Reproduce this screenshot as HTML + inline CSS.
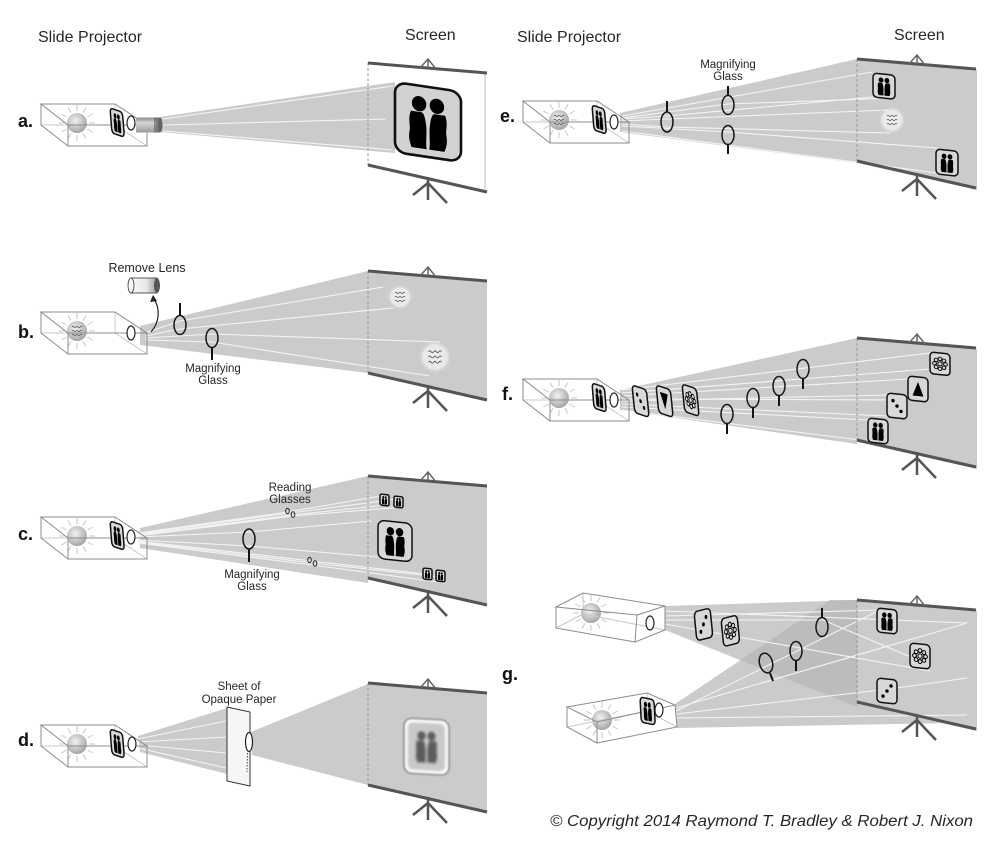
<!DOCTYPE html>
<html><head><meta charset="utf-8"><style>
html,body{margin:0;padding:0;background:#fff}
svg{display:block}
text{font-family:"Liberation Sans",Arial,sans-serif;fill:#262626}
.fr{fill:#d8d8d8;stroke:#111;stroke-width:1.5;vector-effect:non-scaling-stroke}
.gl{fill:none;stroke:#151515;stroke-width:1.5}
.gh{stroke:#151515;stroke-width:2;fill:none}
.ray{stroke:#f4f4f4;stroke-width:1.1;fill:none}
.lens{fill:#fff;stroke:#222;stroke-width:1.2}
</style></head><body>
<svg width="1000" height="845" viewBox="0 0 1000 845" xmlns="http://www.w3.org/2000/svg">
<defs>
<radialGradient id="sg" cx="0.42" cy="0.38" r="0.62"><stop offset="0" stop-color="#f2f2f2"/><stop offset="1" stop-color="#a6a6a6"/></radialGradient>
<radialGradient id="blob" cx="0.5" cy="0.5" r="0.5"><stop offset="0" stop-color="#f0f0f0"/><stop offset="0.7" stop-color="#e8e8e8"/><stop offset="1" stop-color="#cbcbcb" stop-opacity="0"/></radialGradient>
<linearGradient id="cyl" x1="0" y1="0" x2="0" y2="1"><stop offset="0" stop-color="#8a8a8a"/><stop offset="0.35" stop-color="#d4d4d4"/><stop offset="1" stop-color="#9a9a9a"/></linearGradient>
<linearGradient id="cyl2" x1="0" y1="0" x2="1" y2="0"><stop offset="0" stop-color="#fbfbfb"/><stop offset="0.6" stop-color="#e6e6e6"/><stop offset="1" stop-color="#9c9c9c"/></linearGradient>
<filter id="bl05" x="-30%" y="-30%" width="160%" height="160%"><feGaussianBlur stdDeviation="0.7"/></filter>
<filter id="bl1" x="-30%" y="-30%" width="160%" height="160%"><feGaussianBlur stdDeviation="1.1"/></filter>
<g id="sun" stroke="#c6c6c6" stroke-width="1">
<path d="M12,0L18,0 M10.4,6L15.6,9 M6,10.4L9,15.6 M0,12L0,18 M-6,10.4L-9,15.6 M-10.4,6L-15.6,9 M-12,0L-18,0 M-10.4,-6L-15.6,-9 M-6,-10.4L-9,-15.6 M0,-12L0,-18 M6,-10.4L9,-15.6 M10.4,-6L15.6,-9"/>
<circle r="10" fill="url(#sg)" stroke="none"/>
</g>
<path id="wig" fill="none" stroke="#555" stroke-width="0.7" d="M-5,-4 q1,-1.5 2,0 t2,0 t2,0 t2,0 t2,0 M-5,0 q1,-1.5 2,0 t2,0 t2,0 t2,0 t2,0 M-5,4 q1,-1.5 2,0 t2,0 t2,0 t2,0 t2,0"/>
<g id="box" fill="none">
<use href="#sun" x="36" y="19"/>
<path d="M0,21 L74,21 L74,0 M74,21 L106,42" stroke="#c8c8c8" stroke-width="1"/>
<path d="M0,0 L74,0 L106,21 L27,21 Z M27,21 L27,42 L106,42 L106,21 M0,0 L0,21 L27,42" stroke="#8c8c8c" stroke-width="1"/>
</g>
<g id="ppl">
<ellipse cx="7.3" cy="6.2" rx="2.2" ry="2.6"/>
<path d="M4.8,9 C3.8,12 4.8,14 4.4,16 C4,18.5 4.6,20 5,21.4 L9.6,21.4 C9.2,18.5 9.8,16 9.4,13 C9.2,11 8.8,9.4 8.2,9 Z"/>
<ellipse cx="12.7" cy="6.2" rx="2.2" ry="2.6"/>
<path d="M11.8,9 C11.2,9.4 10.8,11 10.6,13 C10.2,16 10.8,18.5 10.4,21.4 L15,21.4 C15.4,20 16,18.5 15.6,16 C15.2,14 16.2,12 15.2,9 Z"/>
</g>
<g id="dice1" fill="#000"><circle cx="6" cy="7" r="1.7"/><circle cx="10" cy="12" r="1.7"/><circle cx="14" cy="17" r="1.7"/></g>
<g id="dice2" fill="#000"><circle cx="14" cy="6.5" r="1.7"/><circle cx="10" cy="12" r="1.7"/><circle cx="6" cy="17.5" r="1.7"/></g>
<polygon id="tri" points="10,5 15.5,19 4.5,19" fill="#000"/>
<polygon id="tri2" points="4.5,5 15.5,5 10,19" fill="#000"/>
<g id="flw" fill="none" stroke="#000" stroke-width="1">
<circle cx="15.5" cy="12" r="1.9"/><circle cx="13.9" cy="15.9" r="1.9"/><circle cx="10" cy="17.5" r="1.9"/><circle cx="6.1" cy="15.9" r="1.9"/><circle cx="4.5" cy="12" r="1.9"/><circle cx="6.1" cy="8.1" r="1.9"/><circle cx="10" cy="6.5" r="1.9"/><circle cx="13.9" cy="8.1" r="1.9"/><circle cx="10" cy="12" r="2.2"/>
</g>
<g id="scrf">
<path d="M0,0 L0,102" stroke="#9a9a9a" stroke-width="1" stroke-dasharray="3,2"/>
<path d="M0,0 L119,10" stroke="#555" stroke-width="3"/>
<path d="M0,102 L119,129" stroke="#555" stroke-width="3"/>
<path d="M52,5 L60,-4 L68,6 M60,-4 L60,5" stroke="#666" stroke-width="1.5" fill="none"/>
<path d="M60,114 L60,120 L45,132 M60,120 L60,137 M60,120 L79,140" stroke="#555" stroke-width="2.5" fill="none"/>
</g>
<g id="slide"><rect class="fr" width="20" height="24" rx="4"/><use href="#ppl" fill="#000"/></g>
</defs>

<!-- headings -->
<text x="38" y="42" font-size="16">Slide Projector</text>
<text x="405" y="40" font-size="16">Screen</text>
<text x="517" y="42" font-size="16">Slide Projector</text>
<text x="894" y="40" font-size="16">Screen</text>
<g font-weight="bold" font-size="18">
<text x="18" y="127" style="fill:#111">a.</text>
<text x="18" y="338" style="fill:#111">b.</text>
<text x="18" y="540" style="fill:#111">c.</text>
<text x="18" y="746" style="fill:#111">d.</text>
<text x="500" y="122" style="fill:#111">e.</text>
<text x="502" y="400" style="fill:#111">f.</text>
<text x="502" y="680" style="fill:#111">g.</text>
</g>

<!-- ================= PANEL A ================= -->
<g transform="translate(368,63)"><polygon points="0,0 119,10 119,129 0,102" fill="#fff"/><path d="M117,10 L117,128" stroke="#bbb"/></g>
<polygon points="160,117 395,82 395,153 160,132" fill="#cbcbcb"/>
<path class="ray" d="M163,119 L393,86 M163,125 L386,119 M163,131 L393,150"/>
<use href="#scrf" x="368" y="63"/>
<g transform="translate(395,82) skewY(8.5) scale(3.3,2.92)"><rect width="20" height="24" rx="3.5" fill="#d2d2d2" stroke="#111" stroke-width="2.6" vector-effect="non-scaling-stroke"/><use href="#ppl" fill="#000"/></g>
<use href="#box" x="41" y="104"/>
<g transform="translate(110,108) matrix(1,0.333,0.08,1,0,0) scale(0.62,1.04)"><use href="#slide"/></g>
<rect x="136" y="117.5" width="24" height="15" fill="url(#cyl)"/>
<rect x="154" y="117.5" width="5" height="15" fill="#555" opacity="0.55"/>
<ellipse cx="160" cy="125" rx="2.5" ry="7.5" fill="#666"/>
<ellipse class="lens" cx="131" cy="123" rx="4" ry="7"/>

<!-- ================= PANEL B ================= -->
<polygon points="140,326 368,271 368,373 140,345" fill="#cbcbcb"/>
<g transform="translate(368,271)"><polygon points="0,0 119,10 119,129 0,102" fill="#cbcbcb"/></g>
<circle cx="400" cy="297" r="13" fill="url(#blob)"/>
<circle cx="435" cy="357" r="17" fill="url(#blob)"/>
<use href="#wig" x="400" y="297"/>
<g transform="translate(435,357) scale(1.3)"><use href="#wig"/></g>
<path class="ray" d="M145,333 L180,321 L383,287 M145,336 L180,329 L393,308 M145,338 L212,334 L440,342 M145,340 L212,342 L430,376"/>
<use href="#scrf" x="368" y="271"/>
<use href="#box" x="41" y="312"/>
<use href="#wig" x="77" y="331"/>
<ellipse class="lens" cx="131" cy="333" rx="4" ry="7"/>
<ellipse class="gl" cx="180" cy="325" rx="6" ry="9.5"/><path class="gh" d="M180,315 L180,303"/>
<ellipse class="gl" cx="212" cy="338" rx="6" ry="9.5"/><path class="gh" d="M212,348 L212,360"/>
<text x="147" y="272" font-size="12.5" text-anchor="middle">Remove Lens</text>
<rect x="131" y="278" width="26" height="15" fill="url(#cyl2)" stroke="#333" stroke-width="0.8"/>
<ellipse cx="157" cy="285.5" rx="3" ry="7.5" fill="#555"/>
<ellipse cx="131" cy="285.5" rx="3" ry="7.5" fill="#f7f7f7" stroke="#333" stroke-width="0.8"/>
<path d="M151,332 C160,322 160,308 154,299" fill="none" stroke="#222" stroke-width="1.2"/>
<polygon points="150,302 153,295 157,301" fill="#222"/>
<text x="213" y="372" font-size="11.5" text-anchor="middle">Magnifying</text>
<text x="213" y="384" font-size="11.5" text-anchor="middle">Glass</text>

<!-- ================= PANEL C ================= -->
<polygon points="140,528 368,476 368,583 140,548" fill="#cbcbcb"/>
<g transform="translate(368,476)"><polygon points="0,0 119,10 119,129 0,102" fill="#cbcbcb"/></g>
<path class="ray" d="M138,533 L287,512 L381,496 M138,534 L290,513 L398,499 M138,535 L292,515 L386,505 M138,536 L293,516 L403,507 M138,537 L249,532 L372,521 M138,540 L249,546 L377,557 M138,541 L312,561 L425,574 M138,542 L313,563 L440,577 M138,543 L312,565 L445,583"/>
<use href="#scrf" x="368" y="476"/>
<g transform="translate(378,520) skewY(6) scale(1.7,1.6)"><use href="#slide"/></g>
<g transform="translate(380,494) skewY(6) scale(0.45,0.46)"><use href="#slide"/></g>
<g transform="translate(394,496) skewY(6) scale(0.45,0.46)"><use href="#slide"/></g>
<g transform="translate(423,568) skewY(6) scale(0.45,0.46)"><use href="#slide"/></g>
<g transform="translate(436,570) skewY(6) scale(0.45,0.46)"><use href="#slide"/></g>
<use href="#box" x="41" y="517"/>
<g transform="translate(110,521) matrix(1,0.333,0.08,1,0,0) scale(0.62,1.04)"><use href="#slide"/></g>
<ellipse class="lens" cx="131" cy="537" rx="4" ry="7"/>
<ellipse class="gl" cx="249" cy="539" rx="6" ry="10"/><path class="gh" d="M249,549 L249,562"/>
<g fill="none" stroke="#222" stroke-width="1"><ellipse cx="287.5" cy="511" rx="1.8" ry="2.6"/><ellipse cx="293" cy="514.5" rx="1.8" ry="2.8"/><ellipse cx="309.5" cy="560" rx="1.8" ry="2.6"/><ellipse cx="315" cy="563.5" rx="1.8" ry="2.8"/></g>
<text x="290" y="491" font-size="11.5" text-anchor="middle">Reading</text>
<text x="290" y="503" font-size="11.5" text-anchor="middle">Glasses</text>
<text x="252" y="578" font-size="11.5" text-anchor="middle">Magnifying</text>
<text x="252" y="590" font-size="11.5" text-anchor="middle">Glass</text>

<!-- ================= PANEL D ================= -->
<polygon points="138,736 227,708 235,776 140,752" fill="#cbcbcb"/>
<polygon points="251,732 368,684 368,785 252,755" fill="#cbcbcb"/>
<g transform="translate(368,683)"><polygon points="0,0 119,10 119,129 0,102" fill="#cbcbcb"/></g>
<path class="ray" d="M138,739 L226,721 M138,742 L226,737 M138,745 L226,753 M138,748 L226,768"/>
<use href="#scrf" x="368" y="683"/>
<g transform="translate(404,718) skewY(3)">
<rect x="0" y="0" width="45" height="55" rx="8" fill="#f8f8f8" stroke="#8a8a8a" stroke-width="1.6" filter="url(#bl05)"/>
<rect x="4" y="4" width="37" height="47" rx="5" fill="#c9c9c9" filter="url(#bl1)"/>
<g transform="translate(4,6) scale(1.85,1.75)" filter="url(#bl05)"><use href="#ppl" fill="#5c5c5c"/></g>
</g>
<polygon points="227,707 250,712 250,786 227,781" fill="#f6f6f6" stroke="#333" stroke-width="1"/>
<ellipse cx="249" cy="742" rx="3.5" ry="9.5" fill="#fff" stroke="#222" stroke-width="1.2"/>
<path d="M247.5,753 L247,772" stroke="#444" stroke-width="1" stroke-dasharray="1.5,1.5"/>
<use href="#box" x="41" y="725"/>
<g transform="translate(110,729) matrix(1,0.333,0.08,1,0,0) scale(0.62,1.04)"><use href="#slide"/></g>
<ellipse class="lens" cx="132" cy="744" rx="4" ry="7"/>
<text x="239" y="690" font-size="11.5" text-anchor="middle">Sheet of</text>
<text x="239" y="703" font-size="11.5" text-anchor="middle">Opaque Paper</text>

<!-- ================= PANEL E ================= -->
<polygon points="620,113 857,59 857,163 620,132" fill="#cbcbcb"/>
<g transform="translate(857,59)"><polygon points="0,0 120,11 120,131 0,104" fill="#cbcbcb"/></g>
<circle cx="892" cy="120" r="14" fill="url(#blob)"/>
<use href="#wig" x="892" y="120"/>
<path class="ray" d="M622,116 L872,72 M622,119 L667,116 L873,97 M622,121 L667,119 L888,110 M622,124 L667,127 L890,133 M622,126 L728,132 L937,148 M622,131 L937,173 M622,118 L728,104 L895,98"/>
<use href="#scrf" x="857" y="59"/>
<g transform="translate(873,73) skewY(6) scale(1.1,1)"><use href="#slide"/></g>
<g transform="translate(936,149) skewY(6) scale(1.1,1.04)"><use href="#slide"/></g>
<use href="#box" x="523" y="101"/>
<use href="#wig" x="559" y="120"/>
<g transform="translate(592,105) matrix(1,0.333,0.08,1,0,0) scale(0.62,1.04)"><use href="#slide"/></g>
<ellipse class="lens" cx="614" cy="122" rx="4" ry="7"/>
<ellipse class="gl" cx="667" cy="122" rx="6" ry="10"/><path class="gh" d="M667,112 L667,101"/>
<ellipse class="gl" cx="728" cy="105" rx="6" ry="9.5"/><path class="gh" d="M728,95.5 L728,86"/>
<ellipse class="gl" cx="728" cy="135" rx="6" ry="9.5"/><path class="gh" d="M728,144.5 L728,154"/>
<text x="728" y="68" font-size="11.5" text-anchor="middle">Magnifying</text>
<text x="728" y="80" font-size="11.5" text-anchor="middle">Glass</text>

<!-- ================= PANEL F ================= -->
<polygon points="620,390 857,338 857,444 620,410" fill="#cbcbcb"/>
<g transform="translate(857,338)"><polygon points="0,0 120,11 120,131 0,104" fill="#cbcbcb"/></g>
<path class="ray" d="M622,390 L930,353 M622,393 L930,369 M622,396 L908,379 M622,399 L908,400 M622,401 L887,395 M622,404 L887,416 M622,407 L868,420 M622,410 L868,441"/>
<use href="#scrf" x="857" y="338"/>
<g transform="translate(930,352) skewY(6) scale(1,0.9)"><rect class="fr" width="20" height="24" rx="4"/><use href="#flw"/></g>
<g transform="translate(908,376) skewY(6) scale(1,1)"><rect class="fr" width="20" height="24" rx="4"/><use href="#tri"/></g>
<g transform="translate(887,393) skewY(6) scale(1,1)"><rect class="fr" width="20" height="24" rx="4"/><use href="#dice1"/></g>
<g transform="translate(868,418) skewY(6) scale(1,1)"><use href="#slide"/></g>
<use href="#box" x="523" y="379"/>
<g transform="translate(592,383) matrix(1,0.333,0.08,1,0,0) scale(0.62,1.04)"><use href="#slide"/></g>
<ellipse class="lens" cx="614" cy="400" rx="4" ry="7"/>
<g transform="translate(632,385) matrix(1,0.333,0.1,1,0,0) scale(0.72,1.15)"><rect class="fr" width="20" height="24" rx="4"/><use href="#dice1"/></g>
<g transform="translate(656,385) matrix(1,0.333,0.1,1,0,0) scale(0.72,1.15)"><rect class="fr" width="20" height="24" rx="4"/><use href="#tri2"/></g>
<g transform="translate(682,384) matrix(1,0.333,0.1,1,0,0) scale(0.72,1.15)"><rect class="fr" width="20" height="24" rx="4"/><use href="#flw"/></g>
<ellipse class="gl" cx="727" cy="414" rx="6" ry="9.5"/><path class="gh" d="M727,423.5 L727,434"/>
<ellipse class="gl" cx="753" cy="398" rx="6" ry="9.5"/><path class="gh" d="M753,407.5 L753,418"/>
<ellipse class="gl" cx="779" cy="386" rx="6" ry="9.5"/><path class="gh" d="M779,395.5 L779,406"/>
<ellipse class="gl" cx="803" cy="369" rx="6" ry="9.5"/><path class="gh" d="M803,378.5 L803,389"/>

<!-- ================= PANEL G ================= -->
<clipPath id="lowc"><polygon points="675,704 830,600 857,600 857,703 950,723 677,728"/></clipPath>
<polygon points="675,704 830,600 857,600 857,703 950,723 677,728" fill="#cbcbcb"/>
<polygon points="665,606 857,600 857,707 665,630" fill="#cbcbcb"/>
<g transform="translate(857,600)"><polygon points="0,0 120,11 120,131 0,104" fill="#cbcbcb"/></g>
<polygon points="665,606 857,600 857,707 665,630" fill="#000" opacity="0.07" clip-path="url(#lowc)"/>
<path class="ray" d="M665,611 L967,623 M665,616 L880,610 M665,620 L823,620 L925,663 M665,624 L930,671 M676,708 L967,623 M676,711 L880,610 M676,714 L897,688 L967,678 M676,718 L967,715"/>
<use href="#scrf" x="857" y="600"/>
<g transform="translate(877,608) skewY(6) scale(1,1)"><use href="#slide"/></g>
<g transform="translate(910,643) skewY(6) scale(1,1)"><rect class="fr" width="20" height="24" rx="4"/><use href="#flw"/></g>
<g transform="translate(877,678) skewY(6) scale(1,1)"><rect class="fr" width="20" height="24" rx="4"/><use href="#dice2"/></g>
<!-- upper box -->
<use href="#sun" x="591" y="613"/>
<g fill="none">
<path d="M583,593 L583,614 L556,628 M583,614 L665,630" stroke="#c8c8c8"/>
<path d="M556,607 L583,593 L665,606 L637,615 Z M556,607 L556,628 L635,642 L637,615 M637,615 L665,606 L665,630 L635,642" stroke="#8c8c8c"/>
</g>
<ellipse class="lens" cx="650" cy="623" rx="4" ry="7"/>
<!-- lower box -->
<use href="#sun" x="602" y="720"/>
<g fill="none">
<path d="M567,727 L647,711 L647,693 M647,711 L677,727" stroke="#c8c8c8"/>
<path d="M567,707 L647,693 L675,705 L597,722 Z M597,722 L597,743 L677,727 L675,705 M567,707 L567,727 L597,743" stroke="#8c8c8c"/>
</g>
<g transform="translate(640,697) matrix(1,0.2,0.05,1,0,0) scale(0.7,1.05)"><use href="#slide"/></g>
<ellipse class="lens" cx="659" cy="710" rx="4" ry="7"/>
<g transform="translate(694,612) matrix(1,-0.25,0.1,1,0,0) scale(0.8,1.2)"><rect class="fr" width="20" height="24" rx="4"/><use href="#dice2"/></g>
<g transform="translate(721,619) matrix(1,-0.25,0.1,1,0,0) scale(0.8,1.15)"><rect class="fr" width="20" height="24" rx="4"/><use href="#flw"/></g>
<ellipse class="gl" cx="822" cy="627" rx="6" ry="9.5"/><path class="gh" d="M822,617.5 L822,608"/>
<ellipse class="gl" cx="796" cy="651" rx="6" ry="9.5"/><path class="gh" d="M796,660.5 L796,671"/>
<ellipse class="gl" cx="766" cy="663" rx="6.5" ry="10" transform="rotate(-15 766 663)"/><path class="gh" d="M770,673 L773,681"/>

<text x="550" y="826" font-size="16" font-style="italic" textLength="423" lengthAdjust="spacingAndGlyphs">© Copyright 2014 Raymond T. Bradley &amp; Robert J. Nixon</text>
</svg>
</body></html>
